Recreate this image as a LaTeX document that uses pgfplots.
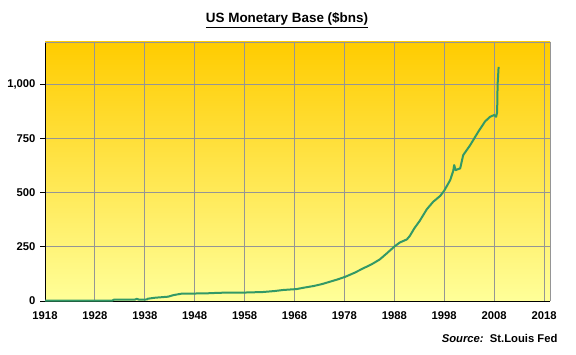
\documentclass[border=0pt]{standalone}
\usepackage{pgfplots}
\pgfplotsset{compat=1.18}
\usepackage{fontspec}
\setmainfont{Liberation Sans}
\definecolor{topc}{HTML}{FFCC00}
\definecolor{midc}{HTML}{FFE46A}
\definecolor{botc}{HTML}{FFFF99}
\definecolor{linec}{HTML}{339966}
\definecolor{gridc}{HTML}{959595}
\begin{document}
\begin{tikzpicture}[x=1bp,y=1bp]
\path[use as bounding box] (0,0) rectangle (576,354);
\begin{axis}[
  at={(45bp,53bp)}, anchor=south west,
  scale only axis, width=505bp, height=259bp,
  xmin=1918, xmax=2019.2, ymin=0, ymax=1195,
  axis x line*=bottom, axis y line*=left,
  axis line style={black, line width=1bp, -},
  xtick={1918,1928,...,2018},
  ytick={0,250,500,750,1000},
  /pgf/number format/1000 sep={},
  yticklabel={\pgfmathprintnumber[1000 sep={,}]{\tick}},
  /pgf/number format/assume math mode=true,
  tick label style={font=\bfseries\fontsize{11.3}{13}\selectfont},
  xtick style={draw=none},
  ytick style={black, line width=0.8bp},
  tick align=outside, major tick length=5bp,
  grid=major, grid style={gridc, line width=0.9bp},
  axis background/.style={shade, top color=topc, middle color=midc, bottom color=botc},
  xticklabel style={yshift=-2bp},
  yticklabel style={xshift=-1bp},
  clip=false,
]
\draw[gridc, line width=0.9bp] (rel axis cs:0,1) -- (rel axis cs:1,1) -- (rel axis cs:1,0);
\addplot[linec, line width=2bp, line join=round] coordinates {
(1918,1.5)(1925,1.5)(1931.5,2)(1931.8,6)(1936,6.5)(1936.4,10)(1936.8,6.5)(1938.4,7)(1938.6,10.5)(1940,15)(1942.7,20)(1943.7,27)(1945.4,34)(1950,35)(1953,38)(1958,39)(1961.7,41.5)(1964,46)(1965.8,51)(1968.4,55)(1970,62)(1971.8,69)(1973.5,78)(1975.1,89)(1976.7,100)(1978.2,112)(1980,130)(1981.8,151)(1983.5,170)(1985.1,192)(1986.5,220)(1988,251)(1989.1,270)(1990.5,284)(1991.1,300)(1992,335)(1993.1,370)(1994.5,423)(1995.8,458)(1997.2,485)(1998,509)(1999.2,558)(1999.8,600)(2000,627)(2000.3,604)(2001.2,612)(2001.8,673)(2003.2,719)(2004.8,780)(2006.2,829)(2007.2,850)(2008,858)(2008.4,850)(2008.6,870)(2008.7,1000)(2008.9,1080)
};
\end{axis}
\node[font=\bfseries\fontsize{13.5}{15}\selectfont] at (287,334) {\underline{US Monetary Base (\$bns)}};
\node[font=\bfseries\fontsize{11.3}{13}\selectfont, anchor=east] at (561,16) {\textit{Source:}\ \ St.Louis Fed};
\end{tikzpicture}
\end{document}
